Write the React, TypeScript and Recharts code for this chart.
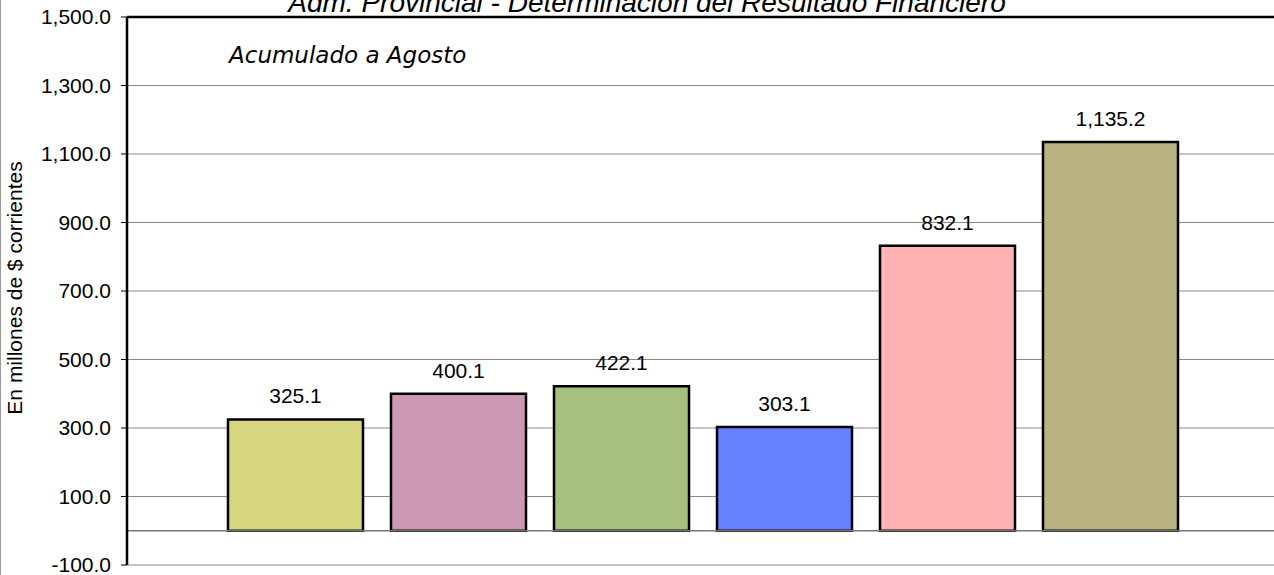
// Bar chart: Adm. Provincial - Determinación del Resultado Financiero (acumulado a agosto)

import * as React from 'react';
import { Bar, BarChart, CartesianGrid, Cell, LabelList, ReferenceLine, XAxis, YAxis } from 'recharts';

const categories = ['A', 'B', 'C', 'D', 'E', 'F'];
const values = [325.1, 400.1, 422.1, 303.1, 832.1, 1135.2];
const barColors = ['#D6D680', '#CC99B3', '#A7C080', '#6680FF', '#FFB3B3', '#B8B380'];
const yTicks = [-100, 100, 300, 500, 700, 900, 1100, 1300, 1500];

const data = categories.map((name, i) => ({ name, value: values[i] }));

const FONT = "'Liberation Sans', Arial, sans-serif";
const fmt = (v: number) =>
  Number(v).toLocaleString('en-US', { minimumFractionDigits: 1, maximumFractionDigits: 1 });

export default function App() {
  return (
    <div
      style={{
        position: 'absolute',
        left: 0,
        top: 0,
        width: 1274,
        height: 575,
        overflow: 'hidden',
        background: '#fff',
        borderLeft: '1px solid #999',
        boxSizing: 'border-box',
      }}
    >
      <BarChart
        width={1300}
        height={575}
        data={data}
        margin={{ top: 17, right: 0, bottom: 10, left: 0 }}
        style={{ fontFamily: FONT }}
      >
        <CartesianGrid vertical={false} stroke='#888' strokeWidth={1} />
        <XAxis
          dataKey='name'
          type='category'
          height={0}
          tick={false}
          tickLine={false}
          axisLine={{ stroke: '#000', strokeWidth: 2.5 }}
          padding={{ left: 87, right: 109 }}
        />
        <YAxis
          width={126}
          domain={[-100, 1500]}
          ticks={yTicks}
          interval={0}
          tickFormatter={fmt}
          tick={{ fill: '#000', fontSize: 21, fontFamily: FONT }}
          tickSize={6}
          tickMargin={10}
          tickLine={{ stroke: '#000', strokeWidth: 1 }}
          axisLine={{ stroke: '#000', strokeWidth: 2.5 }}
          label={{
            value: 'En millones de $ corrientes',
            angle: -90,
            position: 'center',
            dx: -49,
            dy: -3,
            fill: '#000',
            fontSize: 21,
            fontFamily: FONT,
          }}
        />
        <ReferenceLine y={0} stroke='#777' strokeWidth={1.5} />
        <ReferenceLine y={1500} stroke='#000' strokeWidth={2.5} />
        <Bar dataKey='value' barSize={135} stroke='#000' strokeWidth={2.5} isAnimationActive={false}>
          {data.map((d, i) => (
            <Cell key={d.name} fill={barColors[i]} />
          ))}
          <LabelList
            dataKey='value'
            position='top'
            offset={16}
            formatter={(v: any) => fmt(v)}
            style={{ fill: '#000', fontSize: 21, fontFamily: FONT }}
          />
        </Bar>
      </BarChart>
      <svg
        width={1274}
        height={575}
        style={{ position: 'absolute', left: 0, top: 0, pointerEvents: 'none' }}
      >
        <text x={646} y={12} textAnchor='middle' fontSize={28} fontStyle='italic' fontFamily={FONT} fill='#000'>
          Adm. Provincial - Determinación del Resultado Financiero
        </text>
        <text
          x={228}
          y={63}
          fontSize={23}
          fontStyle='italic'
          fontFamily="'Comic Sans MS', 'DejaVu Sans', sans-serif"
          fill='#000'
        >
          Acumulado a Agosto
        </text>
      </svg>
    </div>
  );
}
